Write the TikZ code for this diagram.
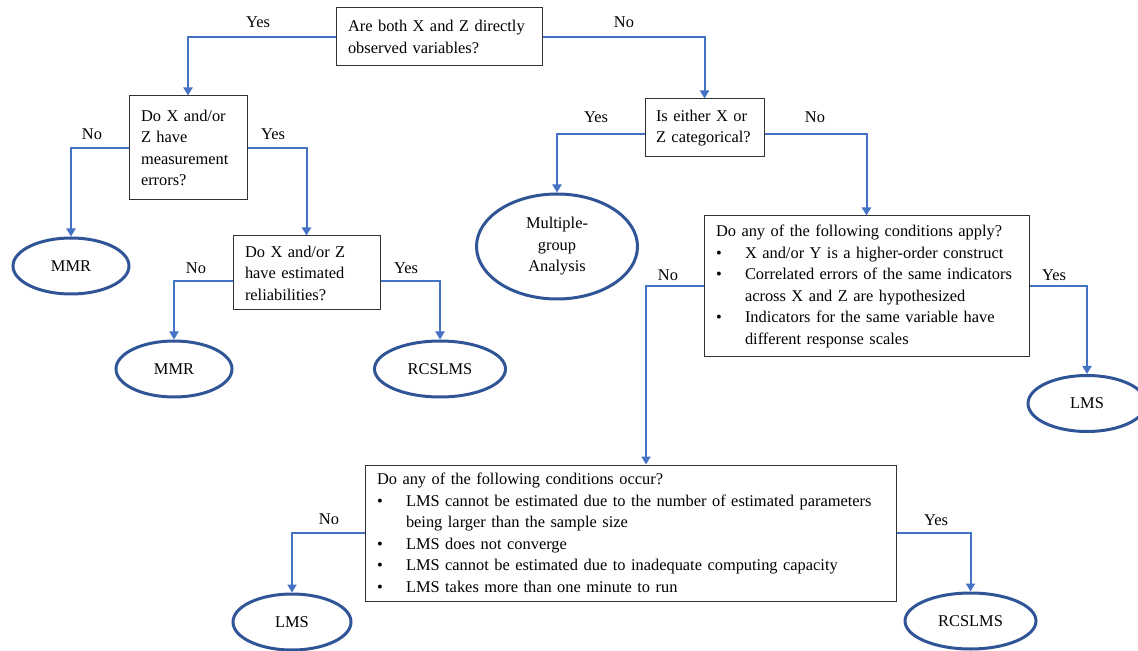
\documentclass[tikz,border=0pt]{standalone}
\usepackage{fontspec}
\setmainfont{Liberation Serif}
\usetikzlibrary{arrows.meta, shapes.geometric}

\definecolor{lineblue}{RGB}{68,114,196}
\definecolor{ringblue}{RGB}{47,85,151}
\newcommand{\bul}{\makebox[14.5pt][l]{\textbullet}}
\newcommand{\bulgap}{\hspace*{14.5pt}}

\begin{document}
\begin{tikzpicture}[
    x=0.5pt, y=-0.5pt,
    txt/.style={font={\fontsize{8.2}{10.75}\selectfont}},
    qbox/.style={txt, draw=black!80, line width=0.5pt, align=left, inner xsep=6pt, inner ysep=0pt},
    result/.style={txt, ellipse, draw=ringblue, line width=1.5pt, inner sep=0pt, align=center},
    lbl/.style={txt, inner sep=0pt},
    arrow/.style={draw=lineblue, line width=1pt, -{Triangle[length=4pt, width=4.5pt]}}
]
\useasboundingbox (0,0) rectangle (1138,651);

% questions
\node[qbox, text width=91pt, minimum height=29pt] (both) at (439,37) {Are both X and Z directly\\observed variables?};
\node[qbox, text width=47pt, minimum height=52pt] (meas) at (188,148) {Do X and/or\\Z have\\measurement\\errors?};
\node[qbox, text width=61.5pt, minimum height=37pt] (rel) at (306.5,273) {Do X and/or Z\\have estimated\\reliabilities?};
\node[qbox, inner xsep=5.5pt, text width=48.5pt, minimum height=29pt] (categ) at (704.5,128) {Is either X or\\Z categorical?};
\node[qbox, text width=150.5pt, minimum height=70.5pt] (apply) at (866.5,286.5) {Do any of the following conditions apply?\\\bul X and/or Y is a higher-order construct\\\bul Correlated errors of the same indicators\\\bulgap across X and Z are hypothesized\\\bul Indicators for the same variable have\\\bulgap different response scales};
\node[qbox, text width=253.5pt, minimum height=68pt] (occur) at (630.5,533) {Do any of the following conditions occur?\\\bul LMS cannot be estimated due to the number of estimated parameters\\\bulgap being larger than the sample size\\\bul LMS does not converge\\\bul LMS cannot be estimated due to inadequate computing capacity\\\bul LMS takes more than one minute to run};

% outcomes
\node[result, minimum width=58pt, minimum height=28pt] (mmrA) at (71,266) {MMR};
\node[result, minimum width=58pt, minimum height=28pt] (mmrB) at (174,369) {MMR};
\node[result, minimum width=65.5pt, minimum height=28pt] (rcsA) at (440,369) {RCSLMS};
\node[result, minimum width=80.5pt, minimum height=52.5pt] (multi) at (557,246.5) {Multiple-\\group\\Analysis};
\node[result, minimum width=59pt, minimum height=28pt] (lmsA) at (1087,403.5) {LMS};
\node[result, minimum width=59pt, minimum height=28pt] (lmsB) at (292,622) {LMS};
\node[result, minimum width=65.5pt, minimum height=28pt] (rcsB) at (970.5,621) {RCSLMS};

% connectors
\draw[arrow] (both.west) -| (meas.north);
\draw[arrow] (both.east) -| (categ.north);
\draw[arrow] (meas.west) -| (mmrA.north);
\draw[arrow] (meas.east) -| (rel.north);
\draw[arrow] ([yshift=-4pt]rel.west) -| (mmrB.north);
\draw[arrow] ([yshift=-4pt]rel.east) -| (rcsA.north);
\draw[arrow] ([yshift=-3pt]categ.west) -| (multi.north);
\draw[arrow] ([yshift=-3pt]categ.east) -| (apply.north);
\draw[arrow] (apply.west) -| ([xshift=7.75pt]occur.north);
\draw[arrow] (apply.east) -| (lmsA.north);
\draw[arrow] (occur.west) -| (lmsB.north);
\draw[arrow] (occur.east) -| (rcsB.north);

% branch labels
\node[lbl] (yesBoth) at (258,22) {Yes};
\node[lbl] (noBoth) at (624,22) {No};
\node[lbl] (noMeas) at (92,134) {No};
\node[lbl] (yesMeas) at (273,134) {Yes};
\node[lbl] (noRel) at (196,268) {No};
\node[lbl] (yesRel) at (406,268) {Yes};
\node[lbl] (yesCateg) at (596,117) {Yes};
\node[lbl] (noCateg) at (815,117) {No};
\node[lbl] (noApply) at (668,275) {No};
\node[lbl] (yesApply) at (1054,275) {Yes};
\node[lbl] (noOccur) at (329,519) {No};
\node[lbl] (yesOccur) at (936,520) {Yes};
\end{tikzpicture}
\end{document}
